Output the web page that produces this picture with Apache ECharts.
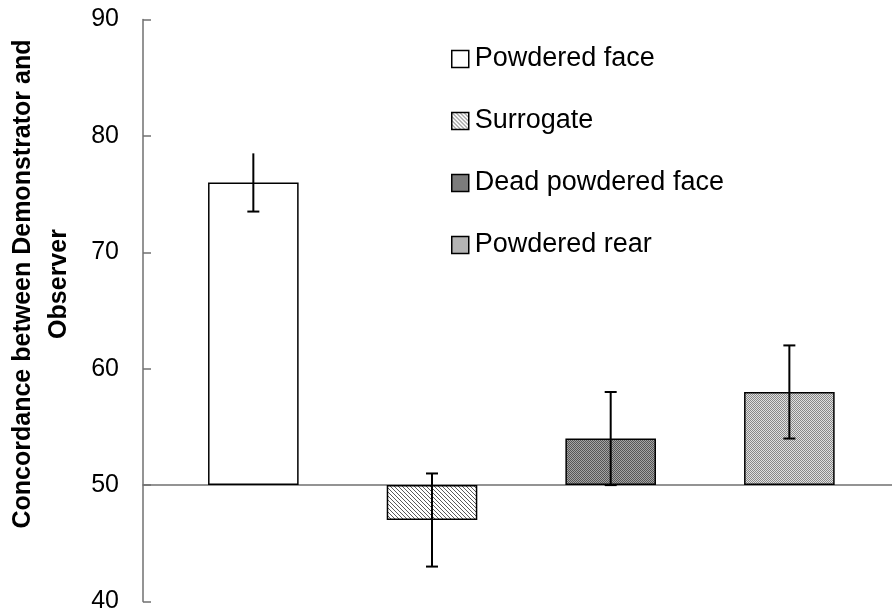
<!DOCTYPE html>
<html>
<head>
<meta charset="utf-8">
<script src="https://cdn.jsdelivr.net/npm/echarts@6/dist/echarts.min.js"></script>
<style>html,body{margin:0;padding:0;background:#fff}#c{width:892px;height:614px}</style>
</head>
<body>
<div id="c"></div>
<script>
var categories = ['Powdered face', 'Surrogate', 'Dead powdered face', 'Powdered rear'];
var means = [76, 47, 54, 58];
var errors = [2.5, 4, 4, 4];
var topCap = [false, true, true, true];
var yTicks = [40, 50, 60, 70, 80, 90];
var baseline = 50;

function pattern(w, h, bg, fg, pts) {
  var cv = document.createElement('canvas');
  cv.width = w; cv.height = h;
  var ctx = cv.getContext('2d');
  ctx.fillStyle = bg; ctx.fillRect(0, 0, w, h);
  ctx.fillStyle = fg;
  pts.forEach(function (p) { ctx.fillRect(p[0], p[1], 1, 1); });
  return { image: cv, repeat: 'repeat' };
}
var fills = [
  '#ffffff',
  pattern(4, 4, '#ffffff', '#5a5a5a', [[0,0],[1,1],[2,2],[3,3]]),
  pattern(2, 2, '#a4a4a4', '#555555', [[0,0],[1,1]]),
  pattern(2, 2, '#e0e0e0', '#888888', [[0,0],[1,1]])
];

var font = 'Arial, "Liberation Sans", sans-serif';
var series = categories.map(function (name, i) {
  return {
    name: name,
    type: 'bar',
    xAxisIndex: 0, yAxisIndex: 0,
    barWidth: '50.7%',
    barGap: '-100%',
    data: categories.map(function (c, j) { return j === i ? means[j] - baseline : '-'; }),
    itemStyle: { color: fills[i], borderColor: '#000', borderWidth: 1.5 },
    emphasis: { disabled: true },
    z: 2
  };
});
series.push({
  type: 'custom',
  xAxisIndex: 0, yAxisIndex: 0,
  z: 5,
  data: categories.map(function (c, i) { return [i, means[i] - errors[i] - baseline, means[i] + errors[i] - baseline, topCap[i] ? 1 : 0]; }),
  renderItem: function (params, api) {
    var lo = api.coord([api.value(0), api.value(1)]);
    var hi = api.coord([api.value(0), api.value(2)]);
    var cw = 6;
    var st = { stroke: '#000', lineWidth: 2 };
    var ch = [
      { type: 'line', shape: { x1: lo[0], y1: lo[1], x2: hi[0], y2: hi[1] }, style: st },
      { type: 'line', shape: { x1: lo[0] - cw, y1: lo[1], x2: lo[0] + cw, y2: lo[1] }, style: st }
    ];
    if (api.value(3)) ch.push({ type: 'line', shape: { x1: hi[0] - cw, y1: hi[1], x2: hi[0] + cw, y2: hi[1] }, style: st });
    return { type: 'group', children: ch };
  }
});

var yMin = yTicks[0] - baseline, yMax = yTicks[yTicks.length - 1] - baseline;
var chart = echarts.init(document.getElementById('c'));
chart.setOption({
  animation: false,
  grid: [
    { left: 164, right: 13.3, top: 19.5, bottom: 12.5 },
    { left: 143, right: 0, top: 19.5, bottom: 12.5 }
  ],
  xAxis: [
    { type: 'category', gridIndex: 0, data: categories, show: false },
    { type: 'value', gridIndex: 1, min: 0, max: 1,
      axisLine: { show: true, onZero: true, lineStyle: { color: '#707070', width: 1.5 } },
      axisTick: { show: false }, axisLabel: { show: false }, splitLine: { show: false } }
  ],
  yAxis: [
    { type: 'value', gridIndex: 0, min: yMin, max: yMax, interval: 10, show: false },
    { type: 'value', gridIndex: 1, min: yMin, max: yMax, interval: 10,
      axisLine: { show: true, lineStyle: { color: '#707070', width: 1.5 } },
      axisTick: { show: true, inside: true, length: 8, lineStyle: { color: '#707070', width: 1.5 } },
      splitLine: { show: false },
      axisLabel: { margin: 24, fontSize: 25, color: '#000', fontFamily: font,
        formatter: function (v) { return String(v + baseline); } } }
  ],
  legend: {
    orient: 'vertical', left: 446, top: 40.5,
    itemWidth: 17, itemHeight: 17, itemGap: 35,
    icon: 'rect',
    data: categories,
    itemStyle: { borderColor: '#000', borderWidth: 1.5 },
    textStyle: { fontSize: 27, lineHeight: 27, color: '#000', fontFamily: font, padding: [0, 0, 0, 1] },
    selectedMode: false
  },
  graphic: [{
    type: 'text',
    x: 41, y: 284,
    rotation: Math.PI / 2,
    style: {
      text: 'Concordance between Demonstrator and\nObserver',
      font: 'bold 25px ' + font,
      lineHeight: 36,
      fill: '#000',
      align: 'center',
      verticalAlign: 'middle'
    }
  }],
  series: series
});
</script>
</body>
</html>
